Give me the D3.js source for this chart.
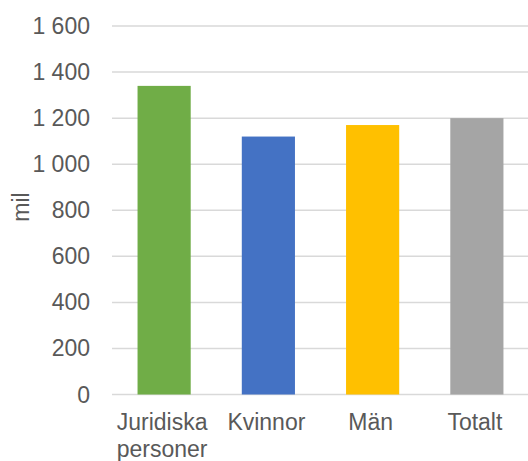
<!DOCTYPE html>
<html><head><meta charset="utf-8">
<script src="https://cdn.jsdelivr.net/npm/d3@7"></script>
<style>body{margin:0;background:#fff}svg{display:block}</style>
</head><body>
<svg id="c" width="528" height="461"></svg>
<script>
const categories = [["Juridiska","personer"],["Kvinnor"],["Män"],["Totalt"]];
const values = [1340, 1120, 1170, 1200];
const colors = ["#70AD47","#4472C4","#FFC000","#A5A5A5"];
const yTicks = [0,200,400,600,800,1000,1200,1400,1600];
const yLabel = "mil";

(function(){
const svg = d3.select("#c");
const font = "'Liberation Sans', Arial, sans-serif";
const pl = 112, pr = 529, pt = 26, pb = 394.5;
const x = d3.scaleBand().domain(d3.range(values.length)).range([pl,pr]).paddingInner(0.49).paddingOuter(0.245);
const y = d3.scaleLinear().domain([0,1600]).range([pb, pt]);
const fmt = v => d3.format(",")(v).replace(/,/g, " ");

svg.append("g").selectAll("line").data(yTicks).join("line")
  .attr("x1", pl).attr("x2", 528)
  .attr("y1", d => y(d)).attr("y2", d => y(d))
  .attr("stroke", "#D9D9D9").attr("stroke-width", 1.5);

svg.append("g").selectAll("rect").data(values).join("rect")
  .attr("x", (d,i) => x(i)).attr("width", x.bandwidth())
  .attr("y", d => y(d)).attr("height", d => y(0) - y(d))
  .attr("fill", (d,i) => colors[i]);

svg.append("g").selectAll("text").data(yTicks).join("text")
  .attr("x", 90).attr("y", d => y(d)).attr("dy", "0.35em")
  .attr("text-anchor", "end").attr("font-family", font).attr("font-size", 23)
  .attr("fill", "#595959").text(fmt);

const xl = svg.append("g").selectAll("text").data(categories).join("text")
  .attr("x", (d,i) => x(i) + x.bandwidth()/2 - 2).attr("y", 430)
  .attr("text-anchor", "middle").attr("font-family", font).attr("font-size", 23)
  .attr("fill", "#595959");
xl.selectAll("tspan").data(d => d).join("tspan")
  .attr("x", function(){ return this.parentNode.getAttribute("x"); })
  .attr("dy", (d,i) => i === 0 ? 0 : 27).text(d => d);

svg.append("text").attr("transform", "translate(29,207) rotate(-90)")
  .attr("text-anchor", "middle").attr("font-family", font).attr("font-size", 23)
  .attr("fill", "#595959").text(yLabel);
})();
</script>
</body></html>
